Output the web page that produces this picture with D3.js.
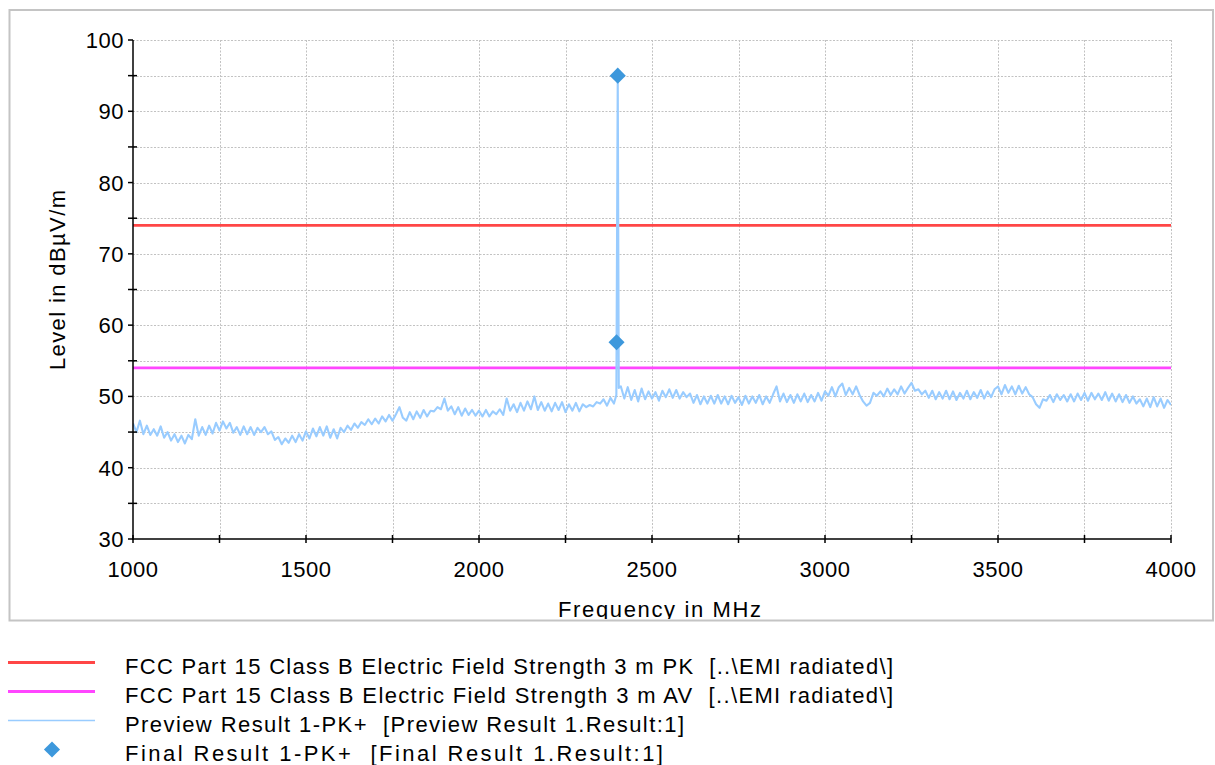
<!DOCTYPE html>
<html>
<head>
<meta charset="utf-8">
<script src="https://cdn.jsdelivr.net/npm/d3@7/dist/d3.min.js"></script>
<style>
  html, body { margin: 0; padding: 0; background: #fff; }
  svg { display: block; }
  text { font-family: "Liberation Sans", Arial, sans-serif; fill: #000; }
</style>
</head>
<body>
<svg id="chart" width="1215" height="765"></svg>
<script>
// ---------------- DATA ----------------
const xTicksMajor = [1000, 1500, 2000, 2500, 3000, 3500, 4000];
const yTicksMajor = [30, 40, 50, 60, 70, 80, 90, 100];
const xTitle = "Frequency in MHz";
const yTitle = "Level in dBµV/m";

// limit lines
const limitPKName = "FCC Part 15 Class B Electric Field Strength 3 m PK  [..\\EMI radiated\\]";
const limitAVName = "FCC Part 15 Class B Electric Field Strength 3 m AV  [..\\EMI radiated\\]";
const limitFreqs = [1000, 4000];
const limitPKLevels = [74, 74];
const limitAVLevels = [54, 54];

// preview trace levels, 1000..4000 MHz in 10 MHz steps
const traceStart = 1000, traceStep = 10;
const traceLevels = [
  46.2, 45.0, 46.6, 44.7, 45.9, 44.6, 45.4, 44.5, 45.8, 44.2,
  45.0, 43.8, 44.7, 43.6, 44.5, 43.4, 44.6, 44.0, 46.8, 44.5,
  45.7, 44.6, 45.9, 44.8, 46.3, 45.2, 46.5, 45.5, 46.3, 44.9,
  45.7, 44.6, 45.8, 44.7, 45.7, 44.6, 45.6, 45.0, 45.7, 44.7,
  45.1, 43.9, 44.3, 43.3, 44.1, 43.5, 44.5, 43.6, 44.7, 43.8,
  45.1, 44.1, 45.5, 44.4, 45.7, 44.5, 45.8, 44.2, 45.4, 44.1,
  45.6, 45.0, 45.9, 45.3, 46.2, 45.6, 46.4, 46.0, 46.8, 46.1,
  46.9, 46.2, 47.2, 46.5, 47.4, 46.6, 47.5, 48.5, 47.0, 46.6,
  47.8, 46.8, 47.9, 47.0, 48.1, 47.2, 48.0, 47.9, 48.5, 48.2,
  49.7, 48.0, 48.6, 47.5, 48.5, 47.3, 48.3, 47.4, 48.1, 47.3,
  48.0, 47.2, 48.1, 47.2, 47.9, 47.5, 48.2, 47.4, 49.7, 48.0,
  48.9, 47.8, 49.1, 48.0, 49.3, 48.2, 50.0, 48.1, 49.2, 48.0,
  49.0, 47.9, 49.1, 48.1, 49.2, 47.8, 48.9, 48.0, 49.1, 47.9,
  48.9, 48.5, 48.8, 48.6, 49.2, 49.0, 49.6, 48.7, 49.8, 49.0,
  49.6, 51.4, 49.7, 51.3, 49.5, 50.9, 49.3, 51.1, 49.6, 50.7,
  49.7, 50.6, 49.4, 50.8, 49.9, 51.0, 49.8, 50.9, 49.7, 50.6,
  49.9, 50.4, 49.1, 50.2, 48.9, 50.0, 49.0, 50.1, 49.0, 50.2,
  49.0, 50.0, 48.9, 50.1, 49.1, 49.9, 48.8, 50.1, 49.0, 50.0,
  49.1, 50.2, 48.9, 50.0, 49.1, 50.3, 51.4, 49.3, 50.4, 49.2,
  50.2, 49.1, 50.3, 49.3, 50.4, 49.2, 50.2, 49.3, 50.5, 49.4,
  50.7, 50.1, 51.3, 50.0, 51.3, 51.8, 50.2, 51.2, 50.3, 51.4,
  50.2, 49.3, 48.7, 49.1, 50.5, 50.1, 50.7, 50.0, 51.1, 50.2,
  51.0, 50.3, 51.4, 50.4, 51.2, 51.9, 50.8, 51.0, 50.3, 50.8,
  49.8, 50.8, 49.6, 50.6, 49.7, 50.8, 49.6, 50.7, 49.5, 50.5,
  49.7, 50.8, 49.6, 50.6, 49.8, 50.9, 49.7, 50.7, 49.9, 51.0,
  51.4, 50.3, 51.6, 50.5, 51.4, 50.3, 51.5, 50.4, 51.3, 50.3,
  49.9, 48.9, 48.4, 49.6, 49.4, 50.2, 49.2, 50.3, 49.5, 50.2,
  49.3, 50.3, 49.3, 50.4, 49.5, 50.5, 49.4, 50.5, 49.6, 50.4,
  49.5, 50.6, 49.4, 50.4, 49.3, 50.3, 49.2, 50.2, 49.1, 50.0,
  49.0, 49.6, 48.6, 49.7, 48.5, 49.9, 48.6, 49.7, 48.4, 49.5,
  48.8
];
// narrow emission near 2.4 GHz inside the preview trace
const spikeFreqs  = [2397, 2401, 2404];
const spikeLevels = [50.2, 95.0, 51.2];

// final measurement results
const finalFreqs  = [2397.5, 2401];
const finalLevels = [57.6, 95.0];

const legendNames = [
  limitPKName,
  limitAVName,
  "Preview Result 1-PK+  [Preview Result 1.Result:1]",
  "Final Result 1-PK+  [Final Result 1.Result:1]"
];

// ---------------- STYLE / LAYOUT ----------------
const colPK = "#ff4646", colAV = "#ff46ff", colTrace = "#99ccff", colFinal = "#3d98dc";
const plot = { left: 133, right: 1171, top: 40, bottom: 539 };

const svg = d3.select("#chart");
const x = d3.scaleLinear().domain([1000, 4000]).range([plot.left, plot.right]);
const y = d3.scaleLinear().domain([30, 100]).range([plot.bottom, plot.top]);

// outer frame
svg.append("rect").attr("x", 9.5).attr("y", 10).attr("width", 1203.5).attr("height", 610.5)
  .attr("fill", "none").attr("stroke", "#c4c4c4").attr("stroke-width", 2);

const defs = svg.append("defs");
defs.append("clipPath").attr("id", "frameClip")
  .append("rect").attr("x", 10).attr("y", 10).attr("width", 1203).attr("height", 609);
defs.append("clipPath").attr("id", "plotClip")
  .append("rect").attr("x", plot.left).attr("y", plot.top - 10)
  .attr("width", plot.right - plot.left).attr("height", plot.bottom - plot.top + 10);

// grid
const yGrid = d3.range(35, 101, 5);
const xGrid = d3.range(1250, 4001, 250);
const grid = svg.append("g").attr("stroke", "#c2c2c2").attr("stroke-width", 1).attr("stroke-dasharray", "2,1.5");
grid.selectAll("line.h").data(yGrid).join("line").attr("class", "h")
  .attr("x1", plot.left).attr("x2", plot.right)
  .attr("y1", d => Math.round(y(d)) + 0.5).attr("y2", d => Math.round(y(d)) + 0.5);
grid.selectAll("line.v").data(xGrid).join("line").attr("class", "v")
  .attr("y1", plot.top).attr("y2", plot.bottom)
  .attr("x1", d => Math.round(x(d)) + 0.5).attr("x2", d => Math.round(x(d)) + 0.5);

// limit lines
const line = d3.line().x(d => x(d[0])).y(d => y(d[1]));
[[limitPKLevels, colPK], [limitAVLevels, colAV]].forEach(([lv, col]) => {
  svg.append("path").datum(d3.zip(limitFreqs, lv))
    .attr("d", line).attr("fill", "none").attr("stroke", col).attr("stroke-width", 2.6);
});

// preview trace
let tracePts = traceLevels.map((v, i) => [traceStart + i * traceStep, v])
  .filter(p => p[0] < spikeFreqs[0] || p[0] > spikeFreqs[spikeFreqs.length - 1]);
tracePts = tracePts.concat(d3.zip(spikeFreqs, spikeLevels)).sort((a, b) => a[0] - b[0]);
svg.append("path").datum(tracePts).attr("clip-path", "url(#plotClip)")
  .attr("d", line).attr("fill", "none").attr("stroke", colTrace)
  .attr("stroke-width", 2.1).attr("stroke-linejoin", "round");

// final result markers
const diamond = d3.symbol().type(d3.symbolDiamond2).size(165);
svg.selectAll("path.final").data(d3.zip(finalFreqs, finalLevels)).join("path").attr("class", "final")
  .attr("transform", d => `translate(${x(d[0])},${y(d[1])})`)
  .attr("d", diamond).attr("fill", colFinal);

// axes
const ax = svg.append("g").attr("stroke", "#000").attr("stroke-width", 1.5);
ax.append("line").attr("x1", plot.left).attr("x2", plot.left).attr("y1", plot.top).attr("y2", plot.bottom + 0.75);
ax.append("line").attr("x1", plot.left - 0.75).attr("x2", plot.right).attr("y1", plot.bottom).attr("y2", plot.bottom);
ax.selectAll("line.ym").data(yTicksMajor).join("line").attr("class", "ym")
  .attr("x1", plot.left - 5).attr("x2", plot.left).attr("y1", d => y(d)).attr("y2", d => y(d));
ax.selectAll("line.yn").data(d3.range(35, 100, 10)).join("line").attr("class", "yn")
  .attr("x1", plot.left - 5).attr("x2", plot.left + 4).attr("y1", d => y(d)).attr("y2", d => y(d));
ax.selectAll("line.xt").data(d3.range(1000, 4001, 250)).join("line").attr("class", "xt")
  .attr("y1", plot.bottom - 4).attr("y2", plot.bottom + 4).attr("x1", d => x(d)).attr("x2", d => x(d));

// tick labels
svg.selectAll("text.yl").data(yTicksMajor).join("text").attr("class", "yl")
  .attr("x", plot.left - 9).attr("y", d => y(d) + 8)
  .attr("text-anchor", "end").attr("font-size", 22).attr("letter-spacing", 0.5)
  .text(d => d);
svg.selectAll("text.xl").data(xTicksMajor).join("text").attr("class", "xl")
  .attr("x", d => x(d)).attr("y", 577)
  .attr("text-anchor", "middle").attr("font-size", 22).attr("letter-spacing", 0.5)
  .text(d => d);

// axis titles
svg.append("text").attr("clip-path", "url(#frameClip)")
  .attr("x", 558).attr("y", 617).attr("font-size", 22)
  .attr("textLength", 203).attr("lengthAdjust", "spacing").text(xTitle);
svg.append("text")
  .attr("transform", "translate(65,370) rotate(-90)")
  .attr("x", 0).attr("y", 0).attr("font-size", 22)
  .attr("textLength", 180).attr("lengthAdjust", "spacing").text(yTitle);

// legend
const legY = [662.5, 691.5, 720.5, 749.5];
const legEnds = [893, 893, 684, 663];
const lg = svg.append("g");
lg.append("line").attr("x1", 8).attr("x2", 95).attr("y1", legY[0]).attr("y2", legY[0]).attr("stroke", colPK).attr("stroke-width", 2.8);
lg.append("line").attr("x1", 8).attr("x2", 95).attr("y1", legY[1]).attr("y2", legY[1]).attr("stroke", colAV).attr("stroke-width", 2.8);
lg.append("line").attr("x1", 8).attr("x2", 95).attr("y1", legY[2]).attr("y2", legY[2]).attr("stroke", colTrace).attr("stroke-width", 1.5);
lg.append("path").attr("transform", `translate(52,${legY[3]})`).attr("d", diamond).attr("fill", colFinal);
lg.selectAll("text").data(legendNames).join("text")
  .attr("x", 125).attr("y", (d, i) => legY[i] + 11)
  .attr("font-size", 22).attr("xml:space", "preserve").style("white-space", "pre")
  .attr("textLength", (d, i) => legEnds[i] - 125).attr("lengthAdjust", "spacing")
  .text(d => d);
</script>
</body>
</html>
